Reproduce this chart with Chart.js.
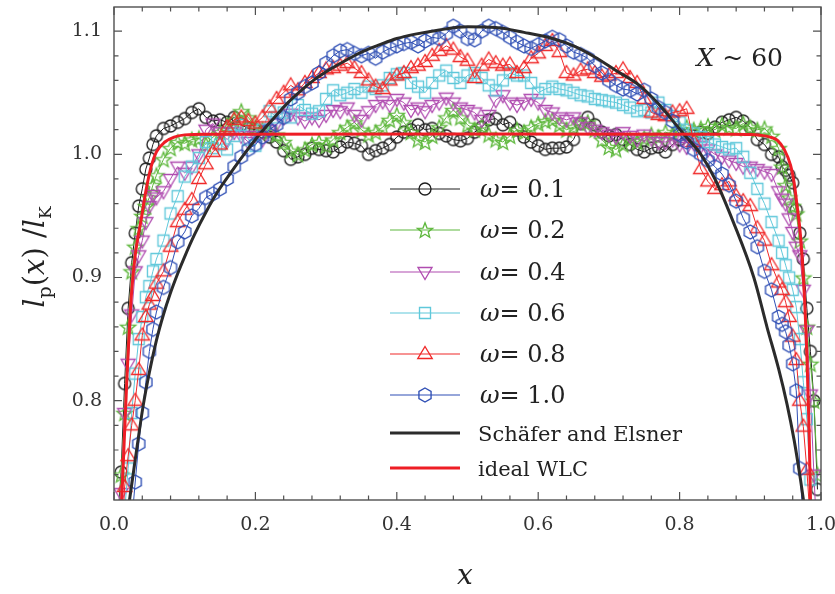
<!DOCTYPE html>
<html>
<head>
<meta charset="utf-8">
<script src="https://cdn.jsdelivr.net/npm/chart.js@4.4.0/dist/chart.umd.min.js"></script>
<style>
  html, body { margin: 0; padding: 0; background: #fff; }
  #wrap { width: 835px; height: 594px; }
</style>
</head>
<body>
<div id="wrap"><canvas id="chart" width="835" height="594"></canvas></div>
<script>
// shared x positions of the simulated points
const xGrid = [0.005,0.01,0.015,0.02,0.025,0.03,0.035,0.04,0.045,0.05,0.055,0.06,
  0.07,0.08,0.09,0.10,0.11,0.12,0.13,0.14,0.15,0.16,0.17,0.18,0.19,0.20,0.21,0.22,0.23,0.24,0.25,0.26,
  0.27,0.28,0.29,0.30,0.31,0.32,0.33,0.34,0.35,0.36,0.37,0.38,0.39,0.40,0.41,0.42,0.43,0.44,0.45,0.46,
  0.47,0.48,0.49,0.50,0.51,0.52,0.53,0.54,0.55,0.56,0.57,0.58,0.59,0.60,0.61,0.62,0.63,0.64,0.65,0.66,
  0.67,0.68,0.69,0.70,0.71,0.72,0.73,0.74,0.75,0.76,0.77,0.78,0.79,0.80,0.81,0.82,0.83,0.84,0.85,0.86,
  0.87,0.88,0.89,0.90,0.91,0.92,0.93,
  0.94,0.945,0.95,0.955,0.96,0.965,0.97,0.975,0.98,0.985,0.99,0.995];

const w01 = [0.70,0.742,0.814,0.875,0.912,0.936,0.958,0.972,0.988,0.997,1.008,1.015,
  1.021,1.023,1.026,1.029,1.034,1.037,1.030,1.027,1.028,1.026,
  1.030,1.024,1.021,1.020,1.018,1.014,1.010,1.003,0.996,0.998,
  1.000,1.005,1.004,1.003,1.002,1.006,1.010,1.009,1.007,1.000,
  1.003,1.005,1.008,1.014,1.018,1.020,1.024,1.020,1.021,1.017,
  1.015,1.012,1.011,1.013,1.018,1.022,1.028,1.029,1.024,1.026,
  1.020,1.014,1.010,1.007,1.004,1.005,1.005,1.006,1.012,1.025,
  1.030,1.024,1.018,1.015,1.016,1.012,1.008,1.004,1.002,1.005,
  1.006,1.002,1.008,1.012,1.016,1.015,1.018,1.017,1.022,1.026,
  1.028,1.030,1.027,1.022,1.012,1.008,1.000,
  0.998,0.990,0.987,0.983,0.977,0.955,0.936,0.915,0.875,0.840,0.800,0.728];

const w02 = [0.68,0.74,0.79,0.86,0.905,0.925,0.94,0.95,0.958,0.965,0.975,0.983,
  0.996,1.005,1.010,1.009,1.012,1.013,1.008,1.014,1.018,1.020,
  1.028,1.035,1.030,1.022,1.020,1.018,1.016,1.010,1.003,1.000,
  1.004,1.008,1.010,1.007,1.012,1.018,1.022,1.026,1.020,1.016,
  1.018,1.022,1.028,1.032,1.026,1.018,1.012,1.010,1.015,1.022,
  1.030,1.036,1.030,1.024,1.020,1.023,1.016,1.012,1.010,1.015,
  1.020,1.018,1.022,1.025,1.027,1.028,1.024,1.020,1.022,1.025,
  1.026,1.020,1.012,1.006,1.004,1.008,1.012,1.010,1.013,1.016,
  1.014,1.018,1.016,1.020,1.022,1.020,1.021,1.023,1.020,1.024,
  1.022,1.021,1.025,1.022,1.020,1.021,1.015,
  1.005,0.990,0.975,0.965,0.958,0.952,0.930,0.900,0.860,0.830,0.800,0.740];

const w04 = [0.66,0.725,0.79,0.83,0.87,0.905,0.918,0.93,0.945,0.958,0.967,0.965,
  0.970,0.980,0.990,0.985,0.990,1.000,1.020,1.025,1.018,1.012,
  1.018,1.015,1.010,1.015,1.012,1.020,1.025,1.030,1.033,1.030,
  1.027,1.030,1.028,1.032,1.036,1.035,1.038,1.032,1.028,1.035,
  1.040,1.043,1.040,1.045,1.042,1.036,1.038,1.035,1.040,1.042,
  1.046,1.042,1.038,1.036,1.034,1.028,1.032,1.044,1.048,1.042,
  1.040,1.042,1.045,1.042,1.036,1.034,1.030,1.028,1.030,1.026,
  1.022,1.020,1.018,1.016,1.014,1.018,1.015,1.012,1.016,1.013,
  1.010,1.010,1.012,1.008,1.006,1.009,1.007,1.004,1.000,0.998,
  0.995,0.993,0.990,0.990,0.988,0.986,0.984,
  0.970,0.964,0.960,0.948,0.937,0.925,0.918,0.890,0.857,0.805,0.740,0.680];

const w06 = [0.62,0.67,0.71,0.745,0.79,0.822,0.85,0.868,0.884,0.893,0.905,0.915,
  0.930,0.952,0.966,0.982,0.990,0.997,1.010,1.005,1.008,1.004,
  1.015,1.024,1.012,1.007,1.020,1.035,1.030,1.034,1.030,1.040,
  1.036,1.033,1.035,1.045,1.052,1.048,1.050,1.053,1.050,1.055,
  1.053,1.056,1.062,1.065,1.066,1.058,1.055,1.050,1.058,1.064,
  1.068,1.062,1.058,1.064,1.066,1.062,1.056,1.052,1.060,1.066,
  1.064,1.064,1.058,1.050,1.053,1.055,1.053,1.052,1.050,1.048,
  1.047,1.045,1.044,1.043,1.042,1.040,1.038,1.035,1.036,1.034,
  1.042,1.036,1.031,1.026,1.020,1.017,1.014,1.010,1.008,1.006,
  1.004,1.005,0.998,0.985,0.972,0.960,0.945,
  0.930,0.920,0.910,0.900,0.890,0.876,0.850,0.815,0.785,0.736,0.680,0.600];

const w08 = [0.60,0.67,0.73,0.755,0.78,0.80,0.825,0.853,0.868,0.878,0.885,0.895,
  0.905,0.925,0.945,0.955,0.963,0.980,0.992,1.002,1.008,1.022,
  1.028,1.030,1.027,1.025,1.030,1.038,1.045,1.050,1.056,1.052,
  1.058,1.062,1.066,1.069,1.070,1.072,1.074,1.070,1.066,1.060,
  1.055,1.053,1.060,1.064,1.066,1.070,1.072,1.075,1.080,1.084,
  1.088,1.085,1.079,1.076,1.062,1.072,1.077,1.074,1.072,1.073,
  1.066,1.070,1.078,1.082,1.088,1.092,1.083,1.066,1.064,1.068,
  1.069,1.066,1.063,1.064,1.066,1.069,1.062,1.058,1.045,1.034,
  1.032,1.031,1.034,1.035,1.037,1.010,0.988,0.978,0.972,0.975,
  0.978,0.966,0.962,0.958,0.940,0.930,0.910,
  0.896,0.890,0.880,0.868,0.852,0.833,0.800,0.779,0.744,0.700,0.640,0.580];

const w10 = [0.50,0.56,0.62,0.67,0.70,0.734,0.765,0.79,0.815,0.84,0.858,0.872,
  0.892,0.908,0.929,0.937,0.950,0.956,0.965,0.968,0.972,0.980,
  0.990,0.998,1.004,1.008,1.014,1.020,1.024,1.030,1.045,1.050,
  1.055,1.058,1.066,1.074,1.080,1.084,1.085,1.082,1.080,1.082,
  1.078,1.083,1.086,1.088,1.090,1.091,1.088,1.092,1.095,1.094,
  1.098,1.104,1.100,1.094,1.093,1.100,1.104,1.102,1.099,1.095,
  1.091,1.088,1.086,1.089,1.092,1.095,1.093,1.088,1.083,1.081,
  1.078,1.072,1.066,1.060,1.056,1.053,1.052,1.049,1.052,1.045,
  1.038,1.034,1.027,1.016,1.010,1.004,1.000,0.995,0.990,0.984,
  0.975,0.962,0.948,0.937,0.925,0.905,0.890,
  0.868,0.862,0.856,0.845,0.830,0.808,0.745,0.700,0.640,0.580,0.500,0.400];

// Schäfer and Elsner curve
const schX = [0.02,0.0226,0.03,0.041,0.05,0.06,0.07,0.079,0.09,0.1,0.114,0.13,0.147,0.165,0.18,0.2,
  0.213,0.23,0.246,0.265,0.282,0.3,0.33,0.35,0.376,0.4,0.43,0.46,0.5,0.54,0.58,0.62,0.65,0.68,0.71,
  0.744,0.77,0.805,0.83,0.85,0.876,0.905,0.924,0.94,0.952,0.962,0.971,0.98];
const schY = [0.712,0.722,0.752,0.795,0.823,0.849,0.870,0.886,0.903,0.917,0.935,0.953,0.970,0.985,0.997,1.012,
  1.021,1.032,1.042,1.052,1.060,1.067,1.077,1.083,1.089,1.094,1.098,1.101,1.1035,1.103,1.099,1.094,1.088,1.079,1.068,
  1.0556,1.041,1.017,1.0,0.98,0.945,0.9,0.859,0.826,0.797,0.768,0.736,0.70];

// ideal WLC curve
const wlcX = [0.004,0.0109,0.018,0.0245,0.03,0.0387,0.045,0.053,0.06,0.072,0.085,0.1,0.13,0.5,0.87,0.9,
  0.914,0.928,0.938,0.948,0.957,0.962,0.966,0.97,0.973,0.977,0.98,0.983,0.985,0.989];
const wlcY = [0.64,0.719,0.815,0.885,0.918,0.948,0.97,0.991,1.002,1.010,1.014,1.0158,1.0164,1.0165,1.0164,1.0162,
  1.0155,1.014,1.0115,1.004,0.991,0.977,0.959,0.94,0.919,0.88,0.838,0.78,0.722,0.62];

const xTickVals = [0.0, 0.2, 0.4, 0.6, 0.8, 1.0];
const yTickVals = [0.8, 0.9, 1.0, 1.1];
const seriesLabels = ['0.1', '0.2', '0.4', '0.6', '0.8', '1.0'];

const serif = '"DejaVu Serif", serif';

// marker images
function marker(shape, color) {
  const c = document.createElement('canvas');
  c.width = 22; c.height = 22;
  const g = c.getContext('2d');
  g.strokeStyle = color;
  g.lineWidth = 1.35;
  g.lineJoin = 'miter';
  g.beginPath();
  if (shape === 'circle') {
    g.arc(11, 11, 6, 0, Math.PI * 2);
  } else if (shape === 'star') {
    for (let k = 0; k < 10; k++) {
      const r = k % 2 ? 3.4 : 8;
      const a = -Math.PI / 2 + k * Math.PI / 5;
      const px = 11 + r * Math.cos(a), py = 11.8 + r * Math.sin(a);
      if (k) g.lineTo(px, py); else g.moveTo(px, py);
    }
    g.closePath();
  } else if (shape === 'tridown') {
    g.moveTo(4, 6.5); g.lineTo(18, 6.5); g.lineTo(11, 18.5); g.closePath();
  } else if (shape === 'square') {
    g.rect(5.5, 5.5, 11, 11);
  } else if (shape === 'triup') {
    g.moveTo(11, 3.5); g.lineTo(18.2, 15.5); g.lineTo(3.8, 15.5); g.closePath();
  } else if (shape === 'hex') {
    for (let k = 0; k < 6; k++) {
      const a = -Math.PI / 2 + k * Math.PI / 3;
      const px = 11 + 7 * Math.cos(a), py = 11 + 7 * Math.sin(a);
      if (k) g.lineTo(px, py); else g.moveTo(px, py);
    }
    g.closePath();
  }
  g.stroke();
  return c;
}

const colors = ['#1e1e1e', '#5fb83e', '#b04cb0', '#5fc8da', '#f02828', '#2f4fb5'];
const shapes = ['circle', 'star', 'tridown', 'square', 'triup', 'hex'];
const ySeries = [w01, w02, w04, w06, w08, w10];
const markers = shapes.map((s, i) => marker(s, colors[i]));

function pts(xs, ys) { return xs.map((x, i) => ({ x: x, y: ys[i] })); }

const datasets = ySeries.map((ys, i) => ({
  label: 'ω = ' + seriesLabels[i],
  data: pts(xGrid, ys),
  showLine: true,
  borderColor: colors[i],
  borderWidth: 1,
  tension: 0,
  pointStyle: markers[i],
  pointRadius: 6,
  order: 8 - i
}));
datasets.push({
  label: 'Schäfer and Elsner',
  data: pts(schX, schY),
  showLine: true,
  borderColor: '#2b2b2b',
  borderWidth: 3,
  pointRadius: 0,
  cubicInterpolationMode: 'monotone',
  order: 2
});
datasets.push({
  label: 'ideal WLC',
  data: pts(wlcX, wlcY),
  showLine: true,
  borderColor: '#ee1d25',
  borderWidth: 3,
  pointRadius: 0,
  cubicInterpolationMode: 'monotone',
  order: 1
});

function richText(ctx, parts, x, y, align, rot) {
  ctx.save();
  ctx.translate(x, y);
  if (rot) ctx.rotate(rot);
  let w = 0;
  parts.forEach(p => { ctx.font = p.font; p.w = ctx.measureText(p.t).width; w += p.w; });
  let cx = align === 'center' ? -w / 2 : (align === 'right' ? -w : 0);
  ctx.textAlign = 'left';
  ctx.textBaseline = 'alphabetic';
  parts.forEach(p => { ctx.font = p.font; ctx.fillText(p.t, cx, p.dy || 0); cx += p.w; });
  ctx.restore();
}

const decorations = {
  id: 'decorations',
  afterDatasetsDraw(chart) {
    const ctx = chart.ctx;
    const { left, right, top, bottom } = chart.chartArea;
    const xs = chart.scales.x, ys = chart.scales.y;
    ctx.save();
    ctx.strokeStyle = '#505050';
    ctx.lineWidth = 1.4;
    ctx.strokeRect(left, top, right - left, bottom - top);
    ctx.lineWidth = 1.2;
    ctx.beginPath();
    for (let i = 0; i <= 25; i++) {
      const px = xs.getPixelForValue(i * 0.04);
      const len = i % 5 === 0 ? 8 : 4.5;
      ctx.moveTo(px, bottom); ctx.lineTo(px, bottom - len);
      ctx.moveTo(px, top); ctx.lineTo(px, top + len);
    }
    for (let i = 37; i <= 55; i++) {
      const py = ys.getPixelForValue(i * 0.02);
      const len = i % 5 === 0 ? 8 : 4.5;
      ctx.moveTo(left, py); ctx.lineTo(left + len, py);
      ctx.moveTo(right, py); ctx.lineTo(right - len, py);
    }
    ctx.stroke();

    // legend
    const rowsY = [189, 230, 272, 313, 354, 395];
    ctx.fillStyle = '#222';
    rowsY.forEach((ry, i) => {
      ctx.strokeStyle = colors[i];
      ctx.lineWidth = 1.2;
      ctx.beginPath(); ctx.moveTo(390, ry); ctx.lineTo(460, ry); ctx.stroke();
      ctx.drawImage(markers[i], 425 - 11, ry - 11);
      richText(ctx, [
        { t: 'ω', font: 'italic 24px ' + serif },
        { t: '= ' + seriesLabels[i], font: '24px ' + serif }
      ], 480, ry + 8, 'left');
    });
    ctx.lineWidth = 3;
    ctx.strokeStyle = '#2b2b2b';
    ctx.beginPath(); ctx.moveTo(390, 433); ctx.lineTo(460, 433); ctx.stroke();
    ctx.strokeStyle = '#ee1d25';
    ctx.beginPath(); ctx.moveTo(390, 468); ctx.lineTo(460, 468); ctx.stroke();
    richText(ctx, [{ t: 'Schäfer and Elsner', font: '21px ' + serif }], 478, 441, 'left');
    richText(ctx, [{ t: 'ideal WLC', font: '21px ' + serif }], 478, 476, 'left');

    // annotation
    richText(ctx, [
      { t: 'X', font: 'italic 25px ' + serif },
      { t: ' ~ 60', font: '25px ' + serif }
    ], 783, 66, 'right');

    // axis titles
    richText(ctx, [{ t: 'x', font: 'italic 28px ' + serif }], 465, 584, 'center');
    richText(ctx, [
      { t: 'l', font: 'italic 29px ' + serif },
      { t: 'p', font: '19px ' + serif, dy: 7 },
      { t: '(', font: '29px ' + serif },
      { t: 'x', font: 'italic 29px ' + serif },
      { t: ') /', font: '29px ' + serif },
      { t: 'l', font: 'italic 29px ' + serif },
      { t: 'K', font: '17px ' + serif, dy: 7 }
    ], 44, 257, 'center', -Math.PI / 2);
    ctx.restore();
  }
};

const tickFont = { family: serif, size: 19 };

new Chart(document.getElementById('chart').getContext('2d'), {
  type: 'scatter',
  data: { datasets: datasets },
  options: {
    responsive: false,
    animation: false,
    layout: { padding: { top: 4, right: 14, left: 0, bottom: 0 } },
    plugins: { legend: { display: false }, tooltip: { enabled: false } },
    scales: {
      x: {
        type: 'linear', min: 0, max: 1,
        grid: { display: false, drawTicks: false },
        border: { display: false },
        afterBuildTicks: s => { s.ticks = xTickVals.map(v => ({ value: v })); },
        ticks: { padding: 14, color: '#333', font: tickFont, maxRotation: 0, autoSkip: false,
                 callback: v => Number(v).toFixed(1) },
        afterFit: s => { s.height = 94; s.paddingLeft = 0; s.paddingRight = 0; }
      },
      y: {
        type: 'linear', min: 0.7194, max: 1.1196,
        grid: { display: false, drawTicks: false },
        border: { display: false },
        afterBuildTicks: s => { s.ticks = yTickVals.map(v => ({ value: v })); },
        ticks: { padding: 12, color: '#333', font: tickFont, autoSkip: false,
                 callback: v => Number(v).toFixed(1) },
        afterFit: s => { s.width = 114; s.paddingTop = 0; s.paddingBottom = 0; }
      }
    }
  },
  plugins: [decorations]
});
</script>
</body>
</html>
